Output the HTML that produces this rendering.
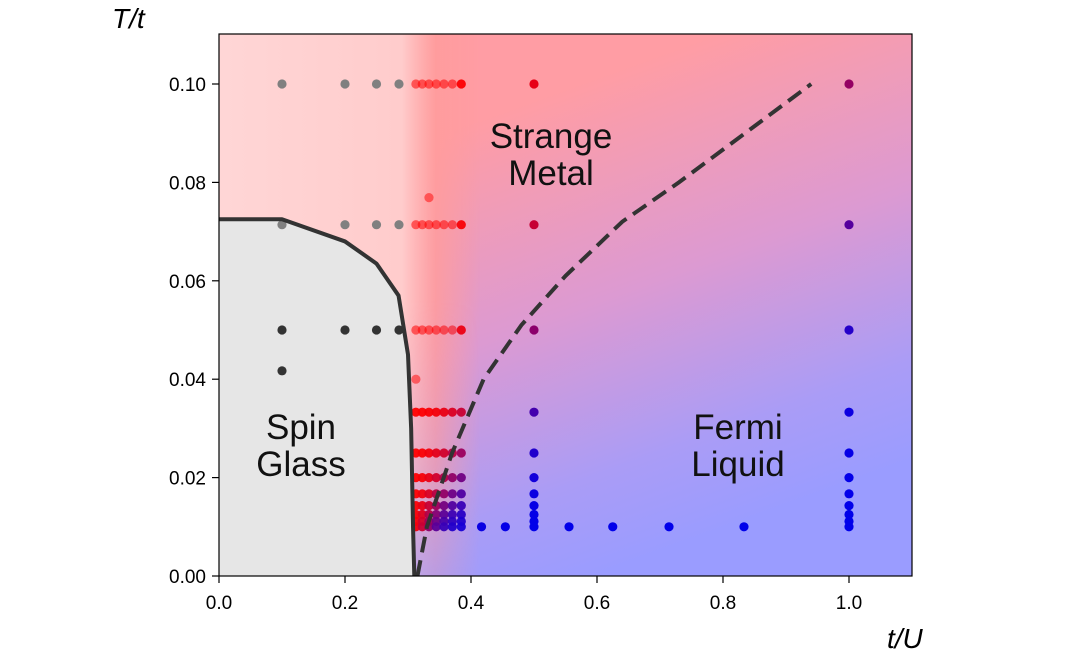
<!DOCTYPE html>
<html><head><meta charset="utf-8"><style>
body{margin:0;background:#fff;}
svg{display:block;font-family:"Liberation Sans",sans-serif;}
</style></head><body>
<svg id="chart" width="1081" height="666" viewBox="0 0 1081 666">
<defs>
<linearGradient id="main" gradientUnits="userSpaceOnUse" x1="480" y1="120" x2="640" y2="560">
<stop offset="0" stop-color="#ff9da4"/>
<stop offset="0.45" stop-color="#dc9ad2"/>
<stop offset="0.8" stop-color="#aa9cf6"/>
<stop offset="1" stop-color="#9a9cff"/>
</linearGradient>
<linearGradient id="left" gradientUnits="userSpaceOnUse" x1="219" y1="0" x2="480" y2="0">
<stop offset="0" stop-color="#ffd6d6"/>
<stop offset="0.7" stop-color="#ffcccc"/>
<stop offset="0.83" stop-color="#ff9c9c" stop-opacity="0.85"/>
<stop offset="1" stop-color="#ff9c9c" stop-opacity="0"/>
</linearGradient>
<linearGradient id="fade" gradientUnits="userSpaceOnUse" x1="0" y1="300" x2="0" y2="576">
<stop offset="0" stop-color="#ffffff" stop-opacity="1"/>
<stop offset="0.6" stop-color="#ffffff" stop-opacity="0.7"/>
<stop offset="1" stop-color="#ffffff" stop-opacity="0.3"/>
</linearGradient>
<mask id="m"><rect x="0" y="0" width="1081" height="666" fill="url(#fade)"/></mask>
</defs>
<rect x="219" y="34" width="693" height="542" fill="url(#main)"/>
<rect x="219" y="34" width="270" height="542" fill="url(#left)" mask="url(#m)"/>
<g id="marks"></g>
<rect x="219" y="34" width="693" height="542" fill="none" stroke="#000" stroke-width="1.2"/>
<g id="axes"></g>
<text x="551" y="148" font-size="35" text-anchor="middle" fill="#111">Strange</text>
<text x="551" y="185" font-size="35" text-anchor="middle" fill="#111">Metal</text>
<text x="301" y="439" font-size="35" text-anchor="middle" fill="#111">Spin</text>
<text x="301" y="476" font-size="35" text-anchor="middle" fill="#111">Glass</text>
<text x="738" y="439" font-size="35" text-anchor="middle" fill="#111">Fermi</text>
<text x="738" y="476" font-size="35" text-anchor="middle" fill="#111">Liquid</text>
<text x="112" y="28" font-size="28" font-style="italic" fill="#000">T/t</text>
<text x="887" y="648" font-size="28" font-style="italic" fill="#000">t/U</text>
</svg>
<script>
const xTicks=[0,0.2,0.4,0.6,0.8,1.0];
const xTickLabels=["0.0","0.2","0.4","0.6","0.8","1.0"];
const yTicks=[0,0.02,0.04,0.06,0.08,0.10];
const yTickLabels=["0.00","0.02","0.04","0.06","0.08","0.10"];
const denseX=[0.3125,0.3226,0.3333,0.3448,0.3571,0.3704,0.3846];
const denseT=[0.1,0.0714,0.05,0.0333,0.025,0.02,0.0167,0.0143,0.0125,0.0111,0.01];
const sparseX=[0.1,0.2,0.25,0.2857];
const sparseT=[0.1,0.0714,0.05];
const colT=[0.1,0.0714,0.05,0.0333,0.025,0.02,0.0167,0.0143,0.0125,0.0111,0.01];
const colX=[0.5,1.0];
const lowX=[0.4167,0.4545,0.5556,0.625,0.7143,0.8333];
const extraX=[0.1,0.3333,0.3125];
const extraT=[0.0417,0.0769,0.04];
const sgX=[0,0.1,0.2,0.25,0.285,0.3,0.305,0.308,0.31];
const sgT=[0.0725,0.0725,0.068,0.0635,0.057,0.045,0.03,0.01,0];
const dashX=[0.315,0.33,0.37,0.42,0.48,0.55,0.64,0.73,0.94];
const dashT=[0,0.01,0.025,0.04,0.051,0.061,0.072,0.08,0.1];

const NS="http://www.w3.org/2000/svg";
const X=v=>219+630*v, Y=v=>576-4920*v;
const marks=document.getElementById('marks'), axes=document.getElementById('axes');
function mk(tag,attrs,parent){const e=document.createElementNS(NS,tag);for(const k in attrs)e.setAttribute(k,attrs[k]);parent.appendChild(e);return e;}
function col(x,T){
  if(x<0.3) return T>0.06?'#808080':'#333333';
  let kd=0.2*Math.pow(Math.max(Math.min(x,0.5)-0.3,0.001),0.9);
  if(x>0.5) kd+=0.086*(x-0.5);
  const s=Math.pow(T,3)/(Math.pow(T,3)+Math.pow(kd,3));
  const r=Math.round(255*s),b=Math.round(235*(1-s));
  return 'rgb('+r+',0,'+b+')';
}
let d='M'+X(0)+','+Y(0)+' ';
sgX.forEach((x,i)=>{d+='L'+X(x)+','+Y(sgT[i])+' ';});
d+='Z';
const sgFill=mk('path',{d:d,fill:'#e6e6e6'},marks);


function dot(x,T,op){
  const c=mk('circle',{cx:X(x),cy:Y(T),r:4.6,fill:col(x,T),'fill-opacity':op},marks);
  
  
}
sparseX.forEach(x=>sparseT.forEach(T=>dot(x,T,1)));
denseX.forEach((x,i)=>denseT.forEach(T=>dot(x,T,(T>0.04&&i<6)?0.55:0.95)));
colX.forEach(x=>colT.forEach(T=>dot(x,T,1)));
lowX.forEach(x=>dot(x,0.01,1));
extraX.forEach((x,i)=>dot(x,extraT[i],x<0.3?1:0.5));
let p='';sgX.forEach((x,i)=>{p+=(i?'L':'M')+X(x)+','+Y(sgT[i])+' ';});
const b=mk('path',{d:p,fill:'none',stroke:'#333',"stroke-width":4,"stroke-linejoin":'round'},marks);


let q='';dashX.forEach((x,i)=>{q+=(i?'L':'M')+X(x)+','+Y(dashT[i])+' ';});
const dl=mk('path',{d:q,fill:'none',stroke:'#333',"stroke-width":4,"stroke-dasharray":'16,8'},marks);


xTicks.forEach((v,i)=>{
  const t=mk('line',{x1:X(v),x2:X(v),y1:576,y2:583,stroke:'#000','stroke-width':1.2},axes);
  
  
  const l=mk('text',{x:X(v),y:609,'font-size':19,'text-anchor':'middle'},axes);l.textContent=xTickLabels[i];
  
  
});
yTicks.forEach((v,i)=>{
  const t=mk('line',{x1:212,x2:219,y1:Y(v),y2:Y(v),stroke:'#000','stroke-width':1.2},axes);
  
  
  const l=mk('text',{x:206,y:Y(v)+7,'font-size':19,'text-anchor':'end'},axes);l.textContent=yTickLabels[i];
  
  
});
</script>
</body></html>
